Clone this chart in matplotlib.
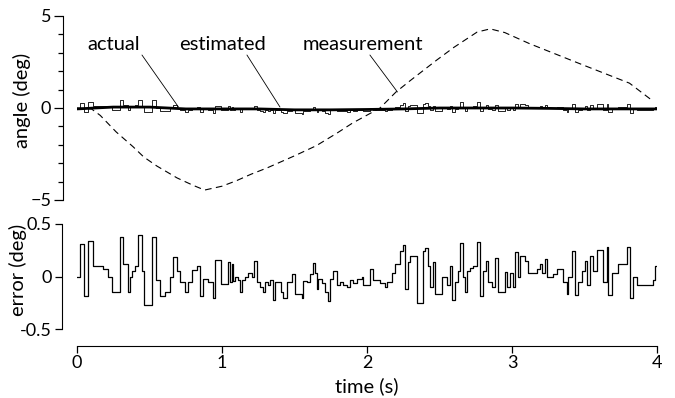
import matplotlib
matplotlib.use("Agg")
from matplotlib import pyplot as plt
from matplotlib.ticker import MultipleLocator
import numpy as np

plt.rcParams['font.family'] = ['Lato', 'DejaVu Sans']
plt.rcParams['font.size'] = 13

meas_t = [0, 0.1, 0.16, 0.27, 0.386, 0.46, 0.55, 0.69, 0.8, 0.88, 1.0, 1.1, 1.2,
          1.31, 1.5, 1.65, 1.79, 1.9, 2.09, 2.2, 2.3, 2.48, 2.6, 2.76, 2.85, 2.95,
          3.12, 3.47, 3.81, 3.96]
meas_v = [0, -0.05, -0.4, -1.3, -2.1, -2.66, -3.15, -3.8, -4.2, -4.46, -4.25, -3.95,
          -3.6, -3.26, -2.6, -2.05, -1.38, -0.82, 0, 0.87, 1.5, 2.6, 3.3, 4.13, 4.3,
          4.1, 3.5, 2.4, 1.35, 0.45]

# actual angle (thick)
act_t = [0, 0.25, 0.5, 0.75, 1.0, 1.25, 1.5, 1.75, 2.0, 2.25, 2.5, 2.75, 3.0,
         3.25, 3.5, 3.75, 4.0]
act_v = [-0.05, 0.05, 0.05, -0.05, -0.05, -0.05, -0.1, -0.1, -0.08, -0.05, 0.0,
         0.0, 0.0, -0.02, -0.05, -0.05, -0.05]

# estimation error, step changes (time, value)
err_t = [0.0, 0.02, 0.048, 0.078, 0.113, 0.182, 0.216, 0.239, 0.297, 0.32, 0.354,
         0.366, 0.38, 0.4, 0.423, 0.446, 0.462, 0.515, 0.545, 0.572, 0.607, 0.641,
         0.664, 0.687, 0.71, 0.745, 0.768, 0.791, 0.825, 0.848, 0.871, 0.906, 0.94,
         0.952, 0.993, 1.039, 1.055, 1.067, 1.078, 1.09, 1.108, 1.124, 1.136, 1.159,
         1.182, 1.205, 1.223, 1.239, 1.262, 1.285, 1.297, 1.32, 1.331, 1.354, 1.366,
         1.407, 1.423, 1.446, 1.481, 1.504, 1.55, 1.561, 1.584, 1.607, 1.626, 1.642,
         1.653, 1.665, 1.688, 1.711, 1.734, 1.745, 1.768, 1.791, 1.814, 1.837, 1.86,
         1.883, 1.906, 1.929, 1.963, 1.975, 2.021, 2.044, 2.09, 2.124, 2.136, 2.17,
         2.193, 2.228, 2.251, 2.262, 2.285, 2.297, 2.343, 2.389, 2.4, 2.423, 2.435,
         2.458, 2.469, 2.515, 2.554, 2.573, 2.584, 2.607, 2.63, 2.642, 2.66, 2.676,
         2.688, 2.711, 2.734, 2.757, 2.78, 2.803, 2.821, 2.837, 2.86, 2.883, 2.906,
         2.952, 2.963, 2.986, 3.005, 3.021, 3.044, 3.055, 3.09, 3.113, 3.17, 3.19,
         3.205, 3.228, 3.239, 3.285, 3.308, 3.354, 3.377, 3.389, 3.412, 3.435, 3.458,
         3.481, 3.504, 3.515, 3.538, 3.561, 3.584, 3.63, 3.653, 3.665, 3.688, 3.734,
         3.791, 3.814, 3.837, 3.86, 3.975, 3.986, 4.0]
err_v = [0.0, 0.31, -0.19, 0.34, 0.1, 0.07, 0.0, -0.15, 0.38, 0.12, -0.15,
         0.0, 0.05, 0.1, 0.4, 0.05, -0.27, 0.38, -0.03, -0.19, -0.15, 0.0,
         0.19, 0.05, -0.05, -0.15, -0.05, 0.06, 0.1, -0.19, -0.02, -0.05, -0.2,
         0.16, -0.07, 0.14, -0.05, 0.12, -0.04, 0.0, -0.03, -0.15, -0.03, 0.0,
         0.03, 0.0, 0.15, -0.05, -0.1, -0.15, -0.05, -0.08, -0.03, -0.22, -0.05,
         -0.15, -0.2, -0.05, 0.02, -0.17, -0.2, -0.04, -0.05, 0.02, 0.13, 0.03,
         -0.12, -0.02, -0.06, -0.15, -0.23, -0.02, 0.05, -0.08, -0.05, -0.08, -0.1,
         -0.03, -0.06, -0.02, 0.0, -0.08, 0.07, -0.03, -0.06, -0.1, -0.05, 0.03,
         0.12, 0.24, 0.3, -0.12, 0.14, 0.2, -0.25, 0.24, 0.27, 0.1, -0.1,
         0.14, -0.17, 0.0, -0.08, 0.1, -0.22, -0.05, 0.05, 0.32, 0.0, -0.15,
         0.05, 0.08, 0.1, 0.33, -0.19, 0.05, 0.15, -0.05, -0.1, 0.18, -0.15,
         0.04, -0.1, 0.03, -0.1, 0.23, 0.0, 0.2, 0.15, 0.03, 0.07, 0.12,
         0.03, 0.17, 0.0, 0.02, 0.07, -0.05, -0.17, 0.0, 0.24, -0.18, -0.05,
         0.05, 0.15, -0.08, 0.2, 0.05, 0.25, -0.05, 0.28, -0.18, 0.03, 0.12,
         0.28, -0.2, 0.0, -0.08, -0.03, 0.1, 0.1]

# label texts and where their pointer lines go
labels = ['actual', 'estimated', 'measurement']
label_t = [0.255, 1.0, 1.97]
line_start = [(0.448, 2.88), (1.172, 2.88), (2.02, 2.88)]
line_end = [(0.7, 0.05), (1.4, 0.05), (2.21, 0.87)]

# estimate = actual + error
est_v = np.interp(err_t, act_t, act_v) + np.array(err_v)

fig = plt.figure(figsize=(6.75, 3.98), dpi=100)
ax1 = fig.add_axes([77/675, 1-200/398, 580/675, 184/398])
ax2 = fig.add_axes([77/675, 1-329/398, 580/675, 105/398])

ax1.plot(meas_t, meas_v, color='black', lw=0.8, ls=(0, (6, 4)))
ax1.step(err_t, est_v, where='post', color='black', lw=0.6)
ax1.plot(act_t, act_v, color='black', lw=2.0)
ax1.set_xlim(0, 4)
ax1.set_ylim(-5, 5)
ax1.set_yticks([-5, 0, 5])
ax1.yaxis.set_minor_locator(MultipleLocator(1))
ax1.spines[['top', 'right', 'bottom']].set_visible(False)
ax1.spines['left'].set_position(('outward', 10))
ax1.tick_params(axis='x', bottom=False, labelbottom=False)
ax1.tick_params(axis='y', which='major', length=6.5, width=0.9, pad=2)
ax1.tick_params(axis='y', which='minor', length=3.5, width=0.9)

for name, tx, p0, p1 in zip(labels, label_t, line_start, line_end):
    ax1.text(tx, 3.45, name, ha='center', va='center', fontsize=14.5)
    ax1.annotate('', xy=p1, xytext=p0,
                 arrowprops=dict(arrowstyle='-', lw=0.6, color='black', shrinkA=0, shrinkB=0))

ax2.step(err_t, err_v, where='post', color='black', lw=0.9)
ax2.set_xlim(0, 4)
ax2.set_ylim(-0.5, 0.5)
ax2.set_yticks([-0.5, 0, 0.5])
ax2.set_yticklabels(['-0.5', '0', '0.5'])
ax2.set_xticks([0, 1, 2, 3, 4])
ax2.spines[['top', 'right']].set_visible(False)
ax2.spines['left'].set_position(('outward', 11))
ax2.spines['bottom'].set_position(('outward', 12))
ax2.tick_params(length=5, width=0.9, pad=2)

# axis labels placed where the reference has them
fig.text(22/675, 1-100/398, 'angle (deg)', rotation=90, ha='center', va='center', fontsize=14.5)
fig.text(18/675, 1-270/398, 'error (deg)', rotation=90, ha='center', va='center', fontsize=14.5)
fig.text(367/675, 1-386/398, 'time (s)', ha='center', va='center', fontsize=14.5)

fig.savefig('out.png', dpi=100)
